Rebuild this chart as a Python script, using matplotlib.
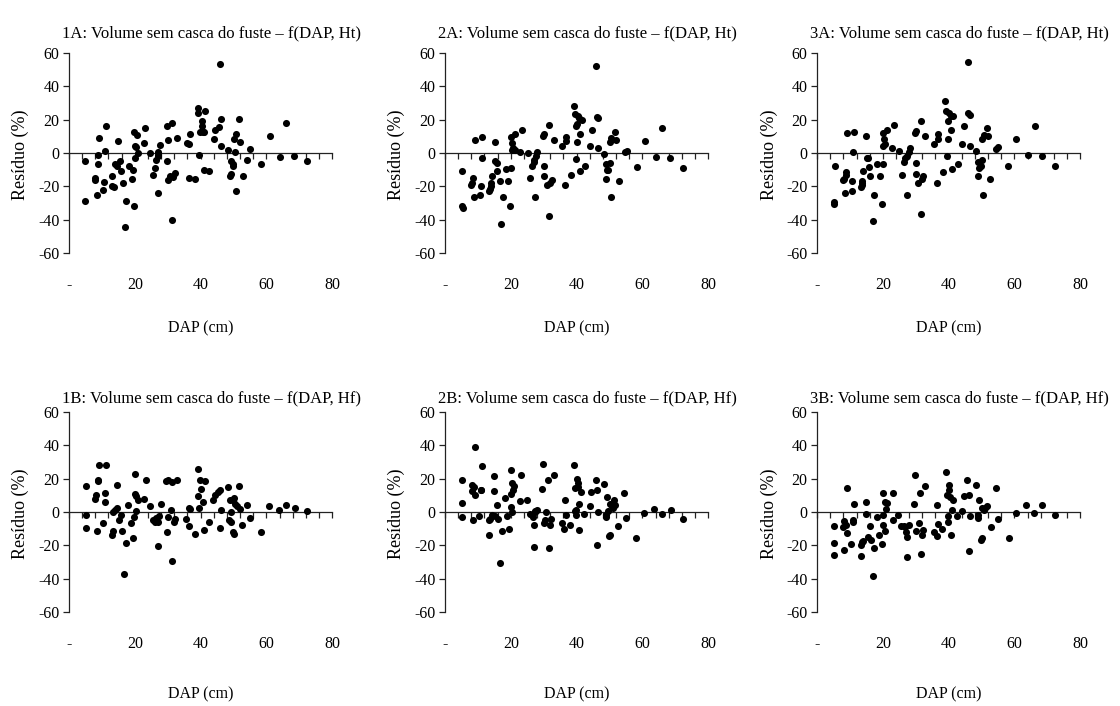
import numpy as np
import matplotlib
matplotlib.use("Agg")
import matplotlib.pyplot as plt

plt.rcParams['font.family'] = ['Liberation Serif', 'DejaVu Serif']
plt.rcParams['axes.unicode_minus'] = False

dap_1a = [5, 5, 8, 8, 8.5, 8.7, 8.8, 9.2, 10.3, 10.7,
          11, 11.2, 13.2, 13.2, 13.6, 14, 14.6, 15, 15.4, 15.7,
          16.3, 16.9, 17.3, 18.2, 19, 19.6, 19.8, 19.9, 20, 20.2,
          20.3, 20.8, 21, 22.7, 23.2, 24.7, 25.5, 26.2, 26.5, 27,
          27, 27.2, 27.1, 27.8, 29.7, 29.8, 30, 30.2, 30.8, 31.3,
          31.4, 31.5, 32.1, 32.9, 35.8, 36.6, 36.8, 36.6, 38.2, 39.1,
          39.2, 39.6, 39.8, 40.3, 40.3, 40.6, 40.9, 41, 41.4, 42.6,
          44, 44.5, 45.6, 46, 46.2, 46.3, 48.4, 48.9, 49.1, 49.3,
          49.8, 50, 50.2, 50.6, 50.8, 50.8, 51.7, 52, 52.8, 54.2,
          55, 58.5, 61, 64.1, 66, 68.4, 72.3]
res_1a = [-5, -29, -15, -16, -25, -1, -6.5, 9, -22, -17.5,
          1, 16, -13.5, -19.5, -20.5, -6.5, -7.5, 7, -5, -11,
          -18, -44.5, -28.5, -8, -15.5, -10, -32, 12.5, -3, 4,
          3.5, 11, 0, 6, 15, 0, -13, -9, -4, 0.5,
          -1, -2, -24, 5, 16, -5, -16, 8, -14, 18,
          -40, -14.5, -12, 9, 6, 5.5, 11.5, -15, -15.5, 27,
          24, -1, 12.5, 16.5, 19.5, 12.5, 12.5, -10, 25.5, -10.5,
          8.5, 14, 15.5, 53.5, 20.5, 4.5, 2, -14, -12.5, -4.5,
          -6.5, -8, 8.5, 0.5, 11.5, -22.5, 20.5, 6.5, -14, -4,
          2.5, -6.5, 10.5, -2.5, 18, -2, -4.5]

dap_2a = [5.3, 5.3, 5.4, 8, 8.3, 8.6, 8.7, 9.2, 10.6, 10.8,
          11.2, 11.4, 13.5, 13.7, 13.9, 14, 14.2, 15.2, 15.3, 15.7,
          15.9, 16.6, 16.9, 17.6, 18.6, 19.3, 19.7, 20.1, 20.2, 20.4,
          20.5, 20.8, 21.3, 21.4, 22.8, 23.3, 25.1, 25.9, 26.6, 27,
          27.2, 27.6, 28, 27.5, 29.8, 30.1, 30, 30.1, 30.9, 31.6,
          31.7, 31.9, 32.4, 33.1, 35.7, 36.5, 36.7, 36.8, 38.2, 39.1,
          39.5, 39.8, 40, 39.8, 40, 40.4, 40.7, 41, 41.1, 41.6,
          42.7, 44.1, 44.6, 46.1, 46.5, 46, 46.4, 48.3, 48.8, 49,
          49.1, 49.6, 50.1, 50.4, 50.3, 50.6, 51.8, 52, 52.8, 54.6,
          55.3, 58.4, 60.7, 64.1, 66.1, 68.5, 72.2]
res_2a = [-10.5, -32, -33, -19, -18, -15, -26.5, 8, -25, -20,
          -3, 9.5, -22.5, -21.5, -19.5, -18, -13.5, 6.5, -5, -6,
          -11, -16.5, -42.5, -26.5, -9.5, -16.5, -32, -9, 9.5, 6,
          2, 3, 11.5, 2, 0.5, 14, 0, -15, -8, -5.5,
          -4, -2, 0.5, -26.5, 10, 11.5, -8, -13.5, -19, 17,
          -37.5, -18, -16, 8, 4, -19, 9.5, 7, -13, 28.5,
          23.5, 16, 17.5, -3.5, 6.5, 22, 21, 11.5, -11, 20,
          -8, 4.5, 14, 21.5, 21, 52, 3, -0.5, -15.5, -6.5,
          -10, -10, 6.5, -26.5, -6, 9, 12.5, 8, -17, 0.5,
          1.5, -8.5, 7, -2.5, 15, -3, -9]

dap_3a = [5.4, 5.3, 5.3, 8, 8.3, 8.6, 8.9, 8.9, 9.1, 10.5,
          10.7, 11, 11.3, 13.3, 13.6, 13.7, 13.8, 13.9, 15, 15.2,
          15.4, 15.9, 16.2, 16.9, 17.4, 18.3, 19.1, 19.8, 20, 20,
          20.4, 20.2, 20.7, 21.2, 22.8, 23.3, 24.9, 25.7, 26.4, 26.6,
          27.2, 27.4, 27.9, 28.2, 29.9, 30.2, 30, 30.1, 30.8, 31.5,
          31.5, 31.9, 32.2, 32.9, 35.7, 36.5, 36.7, 36.9, 38.2, 39,
          39.3, 39.6, 39.7, 39.9, 40.2, 40.6, 40.8, 41, 41.4, 42.7,
          44, 44.6, 46, 46.4, 46, 46.4, 48.3, 48.9, 49, 49.3,
          49.7, 50, 50.2, 50.3, 50.6, 51.8, 52, 52.7, 54.4, 54.9,
          58.1, 60.6, 64.1, 66.1, 68.3, 72.2]
res_3a = [-7.5, -29.5, -30.5, -16, -15.5, -24, -11.5, -13, 12, -23,
          -17, 0.5, 12.5, -20.5, -19, -17, -18, -10.5, 10, -3,
          -3, -8.5, -14, -41, -25, -6.5, -14, -30.5, -6.5, 12,
          8.5, 4.5, 5.5, 14, 3, 17, 1.5, -13, -5.5, -3,
          -25, -1.5, 0.5, 3, 12, 13.5, -6, -12.5, -18, 19,
          -36.5, -15.5, -13.5, 10, 5.5, -18, 11.5, 8.5, -11.5, 31,
          25.5, -2, 19, 8.5, 24, 22, 14, -9.5, 22.5, -6.5,
          5.5, 16, 24, 23, 54.5, 4.5, 1.5, -13.5, -5.5, -9,
          -8, 8.5, -4, -25, 11, 15, 10, -15.5, 2.5, 3.5,
          -7.5, 8.5, -1, 16, -2, -8]

dap_1b = [5.2, 5.2, 5.2, 8, 8.1, 8.8, 8.9, 9, 8.6, 10.3,
          10.9, 11, 11.2, 13.2, 13.4, 13.3, 14, 14.6, 14.7, 15.3,
          15.8, 16.2, 16.7, 17.3, 18, 18.9, 19.6, 19.7, 20.1, 20.1,
          20.5, 21, 20.3, 22.8, 23.3, 24.7, 25.5, 26.2, 26.5, 27,
          27.3, 27.1, 28, 29.6, 30.1, 29.9, 30.2, 30.9, 31.3, 31.4,
          31.8, 32.2, 32.7, 35.6, 36.4, 36.6, 36.7, 38.2, 39.2, 39.3,
          39.5, 39.9, 40.1, 40.6, 40.9, 41.3, 42.6, 43.9, 44.5, 45.3,
          45.9, 46, 46.2, 48.4, 48.7, 49, 49.3, 49.2, 49.8, 50.1,
          50, 50.2, 50.6, 51, 51.6, 51.9, 52.7, 54.2, 55, 58.3,
          60.8, 63.8, 66, 68.6, 72.3]
res_1b = [15.5, -2, -9.5, 8, 10, 18.5, 19, 28.5, -11.5, -6.5,
          6, 11.5, 28.5, -14, -11.5, 0, 1.5, 16.5, 2.5, -4.5,
          -1.5, -11.5, -37, -18.5, 4, -6.5, -15.5, -3, 23, 11,
          9.5, 7.5, 0.5, 8, 19, 3.5, -4.5, -6, -3.5, -6,
          -2.5, -20.5, 5, 18.5, 19.5, -12, -3, 1, 18, -29.5,
          -6, -4, 19.5, -4, -8.5, 2.5, 2, -13, 26, 9.5,
          2.5, 19.5, 14, 6, -11, 18.5, -6, 7.5, 10, 12,
          13, -9.5, 1, 15, -5, 7.5, 0, -6, 7.5, 8.5,
          -12, -13, 5, 3.5, 15.5, 2, -7.5, 4, -3.5, -12,
          3.5, 1.5, 4, 2.5, 0.5]

dap_2b = [5.3, 5.3, 5.3, 8.1, 8.3, 8.8, 9, 9.2, 8.5, 10.4,
          10.8, 10.9, 11.2, 13.4, 13.5, 13.7, 14.2, 14.8, 14.9, 15.2,
          15.9, 16, 16.7, 17.4, 18.1, 18.9, 19.6, 20, 20.1, 20.2,
          20.3, 20.5, 20.8, 21, 22.9, 23.1, 25, 25.9, 26.5, 26.7,
          27.1, 27.2, 27.3, 27.5, 28, 29.6, 29.9, 30, 30.3, 30.7,
          31.3, 31.5, 31.8, 32.3, 33, 35.6, 36.3, 36.6, 36.7, 38.1,
          39.1, 39.4, 39.6, 39.7, 39.8, 40.2, 40.3, 40.3, 40.7, 40.8,
          41.3, 42.2, 44.1, 44.5, 45.8, 46.1, 46.2, 46.4, 48.4, 48.9,
          49, 49.3, 49.4, 50, 50.1, 50.3, 50.8, 51.1, 51.5, 51.8,
          52.6, 54.5, 55.1, 58.2, 60.5, 63.6, 65.9, 68.6, 72.2]
res_2b = [19.5, 5.5, -3, 12.5, 16.5, 15, 10.5, 39, -5, -2.5,
          13, 13.5, 27.5, -13.5, -5, -4, -2, 21.5, 12.5, -2.5,
          4.5, -4, -30.5, -11.5, 8.5, -2.5, -10, 3, 25, 11,
          17.5, 0, 13.5, 15.5, 6.5, 22.5, 7, -1, -2, -3,
          -21, -7.5, 0, 0.5, 1.5, 14, 29, -6.5, -5, 0,
          19, -21.5, -7.5, -4, 22.5, -6.5, -10, 7.5, -2, -7.5,
          28.5, 14.5, 0.5, -1.5, 1.5, 20, 17.5, 15, 5, -10.5,
          12, -1, 3.5, 12, 19, 13, -19.5, 0, 17, -3,
          -1.5, 9, 0.5, -14.5, -14, 5, 3.5, 2.5, 7, 4,
          -8.5, 11.5, -3.5, -15.5, -0.5, 2, -1, 1.5, -4]

dap_3b = [5.3, 5.3, 5.3, 8, 8.3, 8.3, 8.7, 9, 9.2, 10.4,
          10.8, 10.9, 11.2, 13.3, 13.5, 13.7, 14, 14.9, 15, 15.5,
          16, 16.4, 16.9, 17.3, 18.3, 18.9, 19.7, 19.9, 20.1, 20.2,
          20.6, 20.7, 21, 21.4, 23, 23.2, 24.6, 25.6, 26.4, 26.8,
          27.1, 27.2, 27.2, 28, 29.6, 29.9, 30.1, 30.9, 31.3, 31.5,
          31.8, 32.3, 32.8, 35.6, 36.5, 36.6, 36.8, 38.1, 39.2, 39.4,
          39.7, 39.8, 40.2, 40.1, 40.4, 40.8, 40.9, 41.4, 42.5, 44.1,
          44.6, 45.6, 46.1, 46.2, 46.6, 48.4, 48.8, 49, 49.2, 49.9,
          50.1, 50.1, 50.6, 51, 51.6, 52.8, 54.4, 55, 58.2, 60.4,
          63.6, 66, 68.4, 72.3]
res_3b = [-8.5, -18.5, -26, -9, -5.5, -23, -8, -12.5, 14.5, -19,
          -6, -5, 5, -26.5, -19.5, -18, -17.5, 6, -1, -15,
          -8.5, -16.5, -38.5, -21.5, -3, -13.5, -19, -7.5, 11.5, -2,
          6, -11.5, 2, 5.5, -5, 11.5, -1.5, -8.5, -8.5, -9,
          -12, -15, -27, -7.5, 5, 22.5, -11.5, -6.5, 11.5, -25,
          -13.5, -10.5, 15.5, -12, -14.5, 4, -7, -10, 24, 10.5,
          -6, -2.5, 16.5, 13.5, 9, -14, 1, 7, -2.5, 0.5,
          9.5, 19, 10, -23.5, -2.5, 16, -3.5, -1.5, 7.5, -16.5,
          -15.5, 2.5, 1, 2.5, 3.5, -9, 14.5, -4, -15.5, -0.5,
          4, -0.5, 4, -2]

titles = ["1A: Volume sem casca do fuste – f(DAP, Ht)",
          "2A: Volume sem casca do fuste – f(DAP, Ht)",
          "3A: Volume sem casca do fuste – f(DAP, Ht)",
          "1B: Volume sem casca do fuste – f(DAP, Hf)",
          "2B: Volume sem casca do fuste – f(DAP, Hf)",
          "3B: Volume sem casca do fuste – f(DAP, Hf)"]
x_ticks = [0, 20, 40, 60, 80]
x_tick_labels = ["-", "20", "40", "60", "80"]
y_ticks = [-60, -40, -20, 0, 20, 40, 60]

panels = [(dap_1a, res_1a), (dap_2a, res_2a), (dap_3a, res_3a),
          (dap_1b, res_1b), (dap_2b, res_2b), (dap_3b, res_3b)]

fig = plt.figure(figsize=(11.2, 7.06), dpi=100)

lefts = [0.0616, 0.3973, 0.7295]
bottoms = [0.6416, 0.1331]
W, H = 0.235, 0.2833
AX_COLOR = '#222222'


def draw_panel(ax, dap, res, title, top_row):
    ax.scatter(dap, res, s=26, c='black', linewidths=0, zorder=3, clip_on=False)
    ax.set_xlim(0, 80)
    ax.set_ylim(-60, 60)
    ax.spines['top'].set_visible(False)
    ax.spines['right'].set_visible(False)
    ax.spines['bottom'].set_position(('data', 0))
    for s in ('left', 'bottom'):
        ax.spines[s].set_linewidth(0.9)
        ax.spines[s].set_color(AX_COLOR)

    # marcas na linha do zero a cada 4 cm
    ax.set_xticks(np.arange(0, 81, 4))
    ax.tick_params(axis='x', labelbottom=False, direction='out', length=4,
                   width=0.9, color=AX_COLOR)
    ax.set_yticks(y_ticks)
    ax.set_yticklabels([str(v) for v in y_ticks])
    ax.tick_params(axis='y', direction='out', length=4, width=0.9,
                   color=AX_COLOR, labelsize=11.5, pad=3)

    # rótulos do eixo x embaixo do gráfico
    sec = ax.secondary_xaxis(0)
    for s in sec.spines.values():
        s.set_visible(False)
    sec.set_xticks(x_ticks)
    sec.set_xticklabels(x_tick_labels)
    sec.tick_params(length=0, labelsize=11.5, pad=17)

    ty = 1.10 if top_row else 1.07
    ax.text(0.54, ty, title, transform=ax.transAxes, ha='center',
            va='center', fontsize=12)
    ly = -0.375 if top_row else -0.41
    ax.text(0.5, ly, "DAP (cm)", transform=ax.transAxes, ha='center',
            va='center', fontsize=11.5)
    ax.text(-0.183, 0.49, "Resíduo (%)", transform=ax.transAxes,
            ha='center', va='center', rotation=90, fontsize=13)


for i, (dap, res) in enumerate(panels):
    row, col = divmod(i, 3)
    ax = fig.add_axes([lefts[col], bottoms[row], W, H])
    draw_panel(ax, dap, res, titles[i], row == 0)

fig.savefig("out.png", dpi=100)
